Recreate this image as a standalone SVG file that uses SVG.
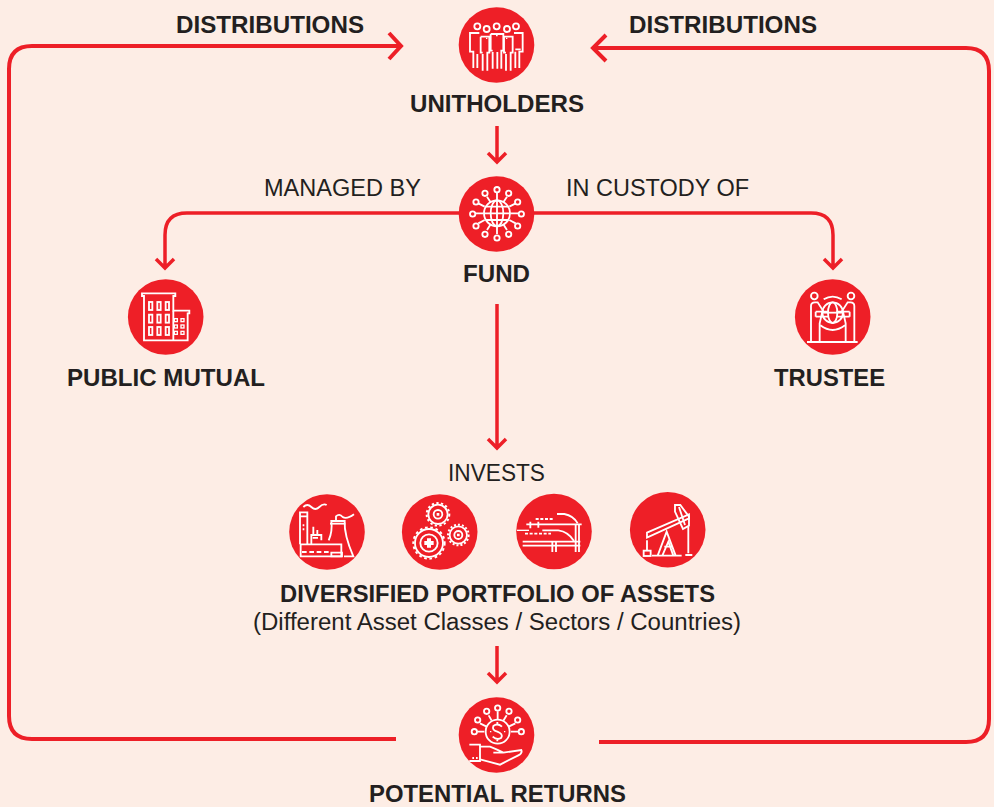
<svg xmlns="http://www.w3.org/2000/svg" width="994" height="807" viewBox="0 0 994 807">
<style>
.c{stroke:#ed1f27;stroke-width:4;fill:none;stroke-linejoin:miter}
.a{stroke:#ed1f27;stroke-width:3.5;fill:none}
.n{fill:#ee1f27}
.i{fill:none;stroke:#fff;stroke-width:5.5}
.f{fill:#fff;stroke:none}
text{font-family:"Liberation Sans",Arial,Helvetica,sans-serif;fill:#231f20;text-anchor:start}
.b{font-weight:700;font-size:23px}
.r{font-size:23px}
</style>
<rect width="994" height="807" fill="#fdede5"/>
<g id="connectors">
<path class="c" d="M396 739H32Q9 739 9 716V69Q9 46 32 46H400"/>
<path class="c" d="M389 33L401 46L389 59"/>
<path class="c" d="M599 742H966Q989 742 989 719V71Q989 48 966 48H594"/>
<path class="c" d="M606 35L593 48L606 61"/>
<path class="a" d="M497 126V162M488 153L497 162L506 153"/>
<path class="a" d="M497 304V448M488 439L497 448L506 439"/>
<path class="a" d="M497 646V682M488 673L497 682L506 673"/>
<path class="a" d="M460 213H187Q165 213 165 235V268M156 259L165 268L174 259"/>
<path class="a" d="M534 213H811Q833 213 833 235V268M824 259L833 268L842 259"/>
</g>
<g id="unitholders">
<circle class="n" cx="496.5" cy="45" r="37.8"/>
<g transform="translate(440 0) scale(.3333)"><g class="i">
<circle cx="112" cy="79" r="9"/><circle cx="140" cy="87" r="9"/><circle cx="170" cy="79" r="9"/><circle cx="201" cy="87" r="9"/><circle cx="228" cy="79" r="9"/>
<path d="M118 99H90V155H100V204M112 162V204"/>
<path d="M222 99H248V155H238V204M226 148H242M226 155V204"/>
<path d="M122 110H148V158H142V212M128 162V212M122 110V158H128"/>
<path d="M192 110H218V158H212V212M198 162V212M192 110V158H198"/>
<path d="M152 102H190V152H184V206M158 156V206M172 156V206M152 102V152H158"/>
</g><path class="f" d="M168 104h5v5h-5zM138 113h4v4h-4zM198 113h4v4h-4z"/></g>
</g>
<g id="fund">
<circle class="n" cx="496.5" cy="214" r="37.8"/>
<g transform="translate(440 170) scale(.3333)"><g class="i">
<circle cx="171" cy="130" r="39"/><ellipse cx="171" cy="130" rx="19" ry="39"/>
<path d="M171 91V169M132 130H210M138 110H204M138 150H204"/>
<path d="M171 68V90M171 170V192M105 130H131M211 130H236M141 80L152 97M201 80L190 97M141 180L152 163M201 180L190 163M115 100L134 110M227 100L208 110M115 160L134 150M227 160L208 150"/>
<circle cx="171" cy="59" r="8"/><circle cx="171" cy="204" r="8"/><circle cx="98" cy="132" r="8"/><circle cx="244" cy="132" r="8"/><circle cx="135" cy="70" r="8"/><circle cx="206" cy="70" r="8"/><circle cx="135" cy="193" r="8"/><circle cx="206" cy="193" r="8"/><circle cx="108" cy="96" r="8"/><circle cx="233" cy="96" r="8"/><circle cx="108" cy="168" r="8"/><circle cx="233" cy="168" r="8"/>
</g></g>
</g>
<g id="public-mutual">
<circle class="n" cx="165.7" cy="317" r="37.8"/>
<g transform="translate(120 270) scale(.3333)"><g class="i">
<path d="M72 211V78H66V70H166V78H160V122H208V130H203V211Z"/>
<path d="M160 122V211"/>
<rect x="87" y="96" width="10" height="24"/><rect x="112" y="96" width="10" height="24"/><rect x="137" y="96" width="10" height="24"/>
<rect x="87" y="134" width="10" height="24"/><rect x="112" y="134" width="10" height="24"/><rect x="137" y="134" width="10" height="24"/>
<rect x="87" y="171" width="10" height="24"/><rect x="112" y="171" width="10" height="24"/><rect x="137" y="171" width="10" height="24"/>
<g stroke-width="4"><rect x="163" y="146" width="9" height="9"/><rect x="183" y="146" width="9" height="9"/><rect x="163" y="165" width="9" height="9"/><rect x="183" y="165" width="9" height="9"/><rect x="163" y="184" width="9" height="9"/><rect x="183" y="184" width="9" height="9"/></g>
</g></g>
</g>
<g id="trustee">
<circle class="n" cx="832.7" cy="317" r="37.8"/>
<g transform="translate(785 270) scale(.3333)"><g class="i">
<circle cx="88" cy="78" r="10"/><circle cx="198" cy="78" r="10"/>
<circle cx="143" cy="128" r="31"/><ellipse cx="143" cy="128" rx="14" ry="31"/><path d="M112 128H174"/>
<path d="M66 216H218"/>
<path d="M78 214V108Q78 97 90 97H98L116 125H132M92 125H112L104 160V214M92 140H132M92 125V140"/>
<path d="M208 214V108Q208 97 196 97H188L170 125H154M194 125H174L182 160V214M194 140H154M194 125V140"/>
<path d="M116 88Q143 72 170 88M106 166Q143 194 180 166"/>
</g></g>
</g>
<g id="asset-energy">
<circle class="n" cx="327" cy="532" r="37.8"/>
<g transform="translate(280 485) scale(.3333)"><g class="i">
<path d="M60 178V82H82V178M60 94H82"/>
<path d="M70 66Q82 54 94 66T118 66T140 60"/>
<path d="M62 178H184V214H62ZM66 201H80M88 201H102M110 201H124M132 201H146"/>
<path d="M94 178V150H124V166M100 150V125M112 150V135"/>
<path d="M146 166Q158 140 154 108H194Q192 150 220 214H192M154 214H186V203H154Z"/>
<path d="M168 106V94Q178 84 188 96Q200 104 222 88"/>
<path d="M150 116H196"/>
</g><path class="f" d="M68 118h5v6h-5zM68 130h5v6h-5zM98 156h16v5h-16z"/></g>
</g>
<g id="asset-gears">
<circle class="n" cx="439.7" cy="532" r="37.8"/>
<g transform="translate(280 485) scale(.3333)"><g class="i">
<circle cx="474" cy="88" r="29"/><circle cx="474" cy="88" r="13"/><circle cx="474" cy="88" r="34" stroke-width="6" stroke-dasharray="7 7"/>
<circle cx="535" cy="150" r="26"/><circle cx="535" cy="150" r="12"/><circle cx="535" cy="150" r="31" stroke-width="6" stroke-dasharray="6 6"/>
<circle cx="447" cy="174" r="42"/><circle cx="447" cy="174" r="26"/><circle cx="447" cy="174" r="47" stroke-width="6" stroke-dasharray="8 8"/>
</g><path class="f" d="M441 160h12v8h8v12h-8v8h-12v-8h-8v-12h8zM470 84h8v8h-8zM531 146h8v8h-8z"/></g>
</g>
<g id="asset-infrastructure">
<circle class="n" cx="554" cy="531.5" r="37.8"/>
<g transform="translate(505 485) scale(.3333)"><g class="i">
<path d="M156 87H178Q205 92 218 115"/>
<path d="M92 102H146" stroke-dasharray="9 5"/>
<path d="M64 118H230M112 136H160Q190 140 207 168"/>
<path d="M60 146H138" stroke-dasharray="9 5"/>
<path d="M53 170H226M53 182H226"/>
<path d="M142 170V201M153 170V201M212 118V201M222 118V201"/>
<path d="M36 136H72" stroke-width="4"/>
<path d="M76 110V130M100 110V128"/>
</g></g>
</g>
<g id="asset-oil">
<circle class="n" cx="667.7" cy="529.7" r="37.8"/>
<g transform="translate(505 485) scale(.3333)"><g class="i">
<path d="M426 143L552 88V100L426 158Z"/>
<path d="M510 60H526L552 95V122L534 132L510 80Z"/>
<path d="M522 66L540 120"/>
<path d="M426 166V196M550 125V205M541 210H562"/>
<rect x="416" y="197" width="21" height="16"/>
<path d="M441 212H530M458 212L485 140L512 212M472 212L490 170L505 212M478 185H500"/>
</g></g>
</g>
<g id="potential-returns">
<circle class="n" cx="496.5" cy="735" r="37.8"/>
<g transform="translate(440 690) scale(.3333)"><g class="i">
<circle cx="173" cy="125" r="36"/>
<path d="M186 110Q172 98 160 108Q155 120 172 125Q190 132 184 143Q172 152 158 140M172 96V104M172 146V154"/>
<path d="M173 64V88M146 76L155 92M200 76L190 92M120 100L140 110M226 100L206 110M112 125H133M213 125H235"/>
<circle cx="173" cy="54" r="8"/><circle cx="140" cy="64" r="8"/><circle cx="207" cy="64" r="8"/><circle cx="113" cy="90" r="8"/><circle cx="233" cy="90" r="8"/><circle cx="103" cy="125" r="8"/><circle cx="244" cy="125" r="8"/>
<path d="M88 164H120V213H88"/>
<path d="M120 170H150Q170 178 190 188H160M190 188L244 180Q248 190 235 196L180 224L120 208"/>
</g><path class="f" d="M97 201h5v6h-5zM108 201h5v6h-5zM150 123h4v4h-4zM192 123h4v4h-4z"/></g>
</g>
<g id="labels">
<text class="b" x="176" y="33" textLength="188" lengthAdjust="spacingAndGlyphs">DISTRIBUTIONS</text>
<text class="b" x="629" y="33" textLength="188" lengthAdjust="spacingAndGlyphs">DISTRIBUTIONS</text>
<text class="b" x="410" y="112" textLength="174" lengthAdjust="spacingAndGlyphs">UNITHOLDERS</text>
<text class="r" x="264" y="196" textLength="157" lengthAdjust="spacingAndGlyphs">MANAGED BY</text>
<text class="r" x="566" y="196" textLength="183" lengthAdjust="spacingAndGlyphs">IN CUSTODY OF</text>
<text class="b" x="463" y="282" textLength="67" lengthAdjust="spacingAndGlyphs">FUND</text>
<text class="b" x="67" y="386" textLength="198" lengthAdjust="spacingAndGlyphs">PUBLIC MUTUAL</text>
<text class="b" x="774" y="386" textLength="111" lengthAdjust="spacingAndGlyphs">TRUSTEE</text>
<text class="r" x="448" y="481" textLength="97" lengthAdjust="spacingAndGlyphs">INVESTS</text>
<text class="b" x="280" y="602" textLength="435" lengthAdjust="spacingAndGlyphs">DIVERSIFIED PORTFOLIO OF ASSETS</text>
<text class="r" x="253" y="630" textLength="488" lengthAdjust="spacingAndGlyphs">(Different Asset Classes / Sectors / Countries)</text>
<text class="b" x="369" y="802" textLength="257" lengthAdjust="spacingAndGlyphs">POTENTIAL RETURNS</text>
</g>
</svg>
